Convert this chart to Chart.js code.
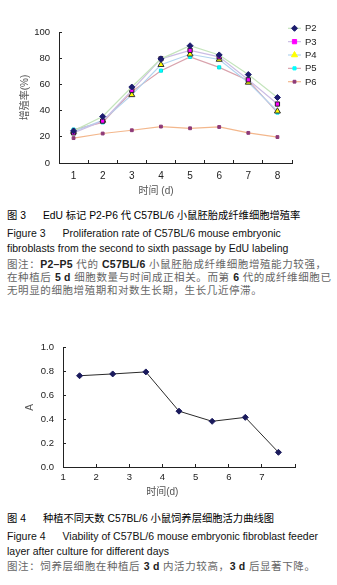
<!DOCTYPE html>
<html>
<head>
<meta charset="utf-8">
<script src="https://cdn.jsdelivr.net/npm/chart.js@4/dist/chart.umd.min.js"></script>
<style>
  html, body { margin:0; padding:0; background:#fff; }
  body { width:337px; height:585px; position:relative; overflow:hidden;
         font-family:"Liberation Sans", Arial, "Noto Sans CJK SC", sans-serif; }
  .wrap { position:absolute; left:0; }
  .cap { position:absolute; left:7px; white-space:pre; line-height:14px; color:#111; }
  .t { font-size:10.3px; color:#000; }
  .f { font-size:10.5px; color:#111; }
  .n { font-size:10.5px; color:#666; letter-spacing:0.6px; }
  .n b { color:#222; font-weight:bold; letter-spacing:0.2px; }
  .g { display:inline-block; width:17px; }
</style>
</head>
<body>
<div class="wrap" style="top:0;width:337px;height:200px;"><canvas id="c1" width="337" height="200"></canvas></div>

<div class="cap t" style="top:209px;">图 3<span class="g"></span>EdU 标记 P2-P6 代 C57BL/6 小鼠胚胎成纤维细胞增殖率</div>
<div class="cap f" style="top:226px;">Figure 3<span class="g"></span>Proliferation rate of C57BL/6 mouse embryonic</div>
<div class="cap f" style="top:241px;">fibroblasts from the second to sixth passage by EdU labeling</div>
<div class="cap n" style="top:257px;">图注：<b>P2–P5</b> 代的 <b>C57BL/6</b> 小鼠胚胎成纤维细胞增殖能力较强，</div>
<div class="cap n" style="top:270px;">在种植后 <b>5 d</b> 细胞数量与时间成正相关。而第 <b>6</b> 代的成纤维细胞已</div>
<div class="cap n" style="top:283px;">无明显的细胞增殖期和对数生长期，生长几近停滞。</div>

<div class="wrap" style="top:330px;width:337px;height:170px;"><canvas id="c2" width="337" height="170"></canvas></div>

<div class="cap t" style="top:512px;">图 4<span class="g"></span>种植不同天数 C57BL/6 小鼠饲养层细胞活力曲线图</div>
<div class="cap f" style="top:529px;">Figure 4<span class="g"></span>Viability of C57BL/6 mouse embryonic fibroblast feeder</div>
<div class="cap f" style="top:544px;">layer after culture for different days</div>
<div class="cap n" style="top:559px;">图注：饲养层细胞在种植后 <b>3 d</b> 内活力较高，<b>3 d</b> 后显著下降。</div>

<script>
// ---------- Data: Figure 3 ----------
const days1 = ['1', '2', '3', '4', '5', '6', '7', '8'];
const seriesNames = ['P2', 'P3', 'P4', 'P5', 'P6'];
const p2 = [24.5, 35.5, 58, 79.5, 89.5, 82.5, 67.5, 50];
const p3 = [23, 32, 55.5, 79.5, 86, 81, 63.5, 45];
const p4 = [24, 32.5, 52, 75, 83, 79, 61.5, 39.5];
const p5 = [25.5, 31, 54.5, 70.5, 81, 73, 63, 38.5];
const p6 = [19, 22.5, 25, 27.8, 26.5, 27.5, 23, 19.8];
const yTitle1 = '增殖率(%)';
const xTitle1 = '时间 (d)';

// ---------- Data: Figure 4 ----------
const days2 = ['1', '2', '3', '4', '5', '6', '7'];
const viability = [0.765, 0.78, 0.797, 0.468, 0.383, 0.416, 0.123];
const yTitle2 = 'A';
const xTitle2 = '时间(d)';

const seriesValues = [p2, p3, p4, p5, p6];
const lineColors = ['#c4e4bc', '#cbbde4', '#b2d3ee', '#d9a3ad', '#f3b78c'];
const markerFill = ['#1c1c6e', '#ff00ff', '#ffff00', '#00ffff', '#8e3a78'];
const markerBorder = ['#1c1c6e', '#222222', '#333333', '#00e0e0', '#8e3a78'];
const markerStyle = ['rectRot', 'rect', 'triangle', 'rect', 'rect'];
const markerRadius = [3, 3, 3.5, 2.2, 2];

const FONT = '"Liberation Sans", Arial, "Noto Sans CJK SC", sans-serif';
const pad = n => ' '.repeat(n);

function drawMarker(ctx, style, r, x, y, fill, stroke) {
  ctx.save();
  ctx.fillStyle = fill; ctx.strokeStyle = stroke; ctx.lineWidth = 1;
  if (Chart.helpers && Chart.helpers.drawPoint) {
    Chart.helpers.drawPoint(ctx, {pointStyle: style, radius: r, rotation: 0, borderWidth: 1}, x, y);
  } else {
    ctx.fillRect(x - r, y - r, 2 * r, 2 * r);
  }
  ctx.restore();
}

const legendPlugin = {
  id: 'sideLegend',
  afterDraw(chart) {
    const ctx = chart.ctx, ca = chart.chartArea;
    chart.data.datasets.forEach((ds, i) => {
      const y = ca.top - 3.7 + i * 13.35;
      const x0 = ca.right - 4;
      ctx.save();
      ctx.strokeStyle = ds.borderColor; ctx.lineWidth = 1.2;
      ctx.beginPath(); ctx.moveTo(x0, y); ctx.lineTo(x0 + 13, y); ctx.stroke();
      drawMarker(ctx, ds.pointStyle, ds.pointRadius, x0 + 6.5, y, ds.pointBackgroundColor, ds.pointBackgroundColor);
      ctx.fillStyle = '#222';
      ctx.font = '9.5px ' + FONT;
      ctx.textBaseline = 'middle'; ctx.textAlign = 'left';
      ctx.fillText(ds.label, x0 + 17, y + 0.5);
      ctx.restore();
    });
  }
};

new Chart(document.getElementById('c1'), {
  type: 'line',
  data: {
    labels: days1,
    datasets: seriesNames.map((name, i) => ({
      label: name,
      data: seriesValues[i],
      borderColor: lineColors[i],
      borderWidth: 1.2,
      backgroundColor: markerFill[i],
      pointStyle: markerStyle[i],
      pointRadius: markerRadius[i],
      pointBackgroundColor: markerFill[i],
      pointBorderColor: markerBorder[i],
      pointBorderWidth: 1,
      tension: 0,
      fill: false
    }))
  },
  options: {
    responsive: false, animation: false, devicePixelRatio: 1,
    layout: { padding: { top: 32, right: 45, left: 0, bottom: 0 } },
    plugins: { legend: { display: false }, tooltip: { enabled: false } },
    scales: {
      x: {
        offset: true,
        afterFit: s => { s.height = 37; },
        grid: { offset: true, drawOnChartArea: false, drawTicks: true, tickLength: -3, color: '#222' },
        border: { color: '#222', width: 1 },
        ticks: { color: '#222', font: { size: 10, family: FONT }, padding: 10, maxRotation: 0 },
        title: { display: true, text: xTitle1 + pad(14), color: '#555', font: { size: 10, family: FONT }, padding: { top: 0, bottom: 3 } }
      },
      y: {
        min: 0, max: 100,
        afterFit: s => { s.width = 59; },
        grid: { drawOnChartArea: false, drawTicks: true, tickLength: -3, color: '#222' },
        border: { color: '#222', width: 1 },
        ticks: { stepSize: 10, color: '#222', font: { size: 9.5, family: FONT }, padding: 12 },
        title: { display: true, text: yTitle1, color: '#555', font: { size: 10, family: FONT }, padding: { top: 19, bottom: 0 } }
      }
    }
  },
  plugins: [legendPlugin]
});

new Chart(document.getElementById('c2'), {
  type: 'line',
  data: {
    labels: days2,
    datasets: [{
      label: 'A',
      data: viability,
      borderColor: '#2a2a2a',
      borderWidth: 1,
      pointStyle: 'rectRot',
      pointRadius: 3,
      pointBackgroundColor: '#1a1a5c',
      pointBorderColor: '#1a1a5c',
      tension: 0,
      fill: false
    }]
  },
  options: {
    responsive: false, animation: false, devicePixelRatio: 1,
    layout: { padding: { top: 10, right: 42, left: 0, bottom: 0 } },
    plugins: { legend: { display: false }, tooltip: { enabled: false } },
    scales: {
      x: {
        offset: true,
        afterFit: s => { s.height = 33; },
        grid: { offset: true, drawOnChartArea: false, drawTicks: true, tickLength: -3, color: '#222' },
        border: { color: '#222', width: 1 },
        ticks: { color: '#222', font: { size: 9.5, family: FONT }, padding: 8, labelOffset: -16.5, maxRotation: 0 },
        title: { display: true, text: xTitle2 + pad(12), color: '#555', font: { size: 10, family: FONT }, padding: { top: 0, bottom: 2 } }
      },
      y: {
        min: 0, max: 1,
        afterFit: s => { s.width = 63; },
        grid: { drawOnChartArea: false, drawTicks: true, tickLength: -3, color: '#222' },
        border: { color: '#222', width: 1 },
        ticks: { stepSize: 0.2, color: '#222', font: { size: 9.5, family: FONT }, padding: 12, callback: v => Number(v).toFixed(1) },
        title: { display: true, text: yTitle2, color: '#555', font: { size: 10, family: FONT }, padding: { top: 24, bottom: 0 } }
      }
    }
  }
});
</script>
</body>
</html>
